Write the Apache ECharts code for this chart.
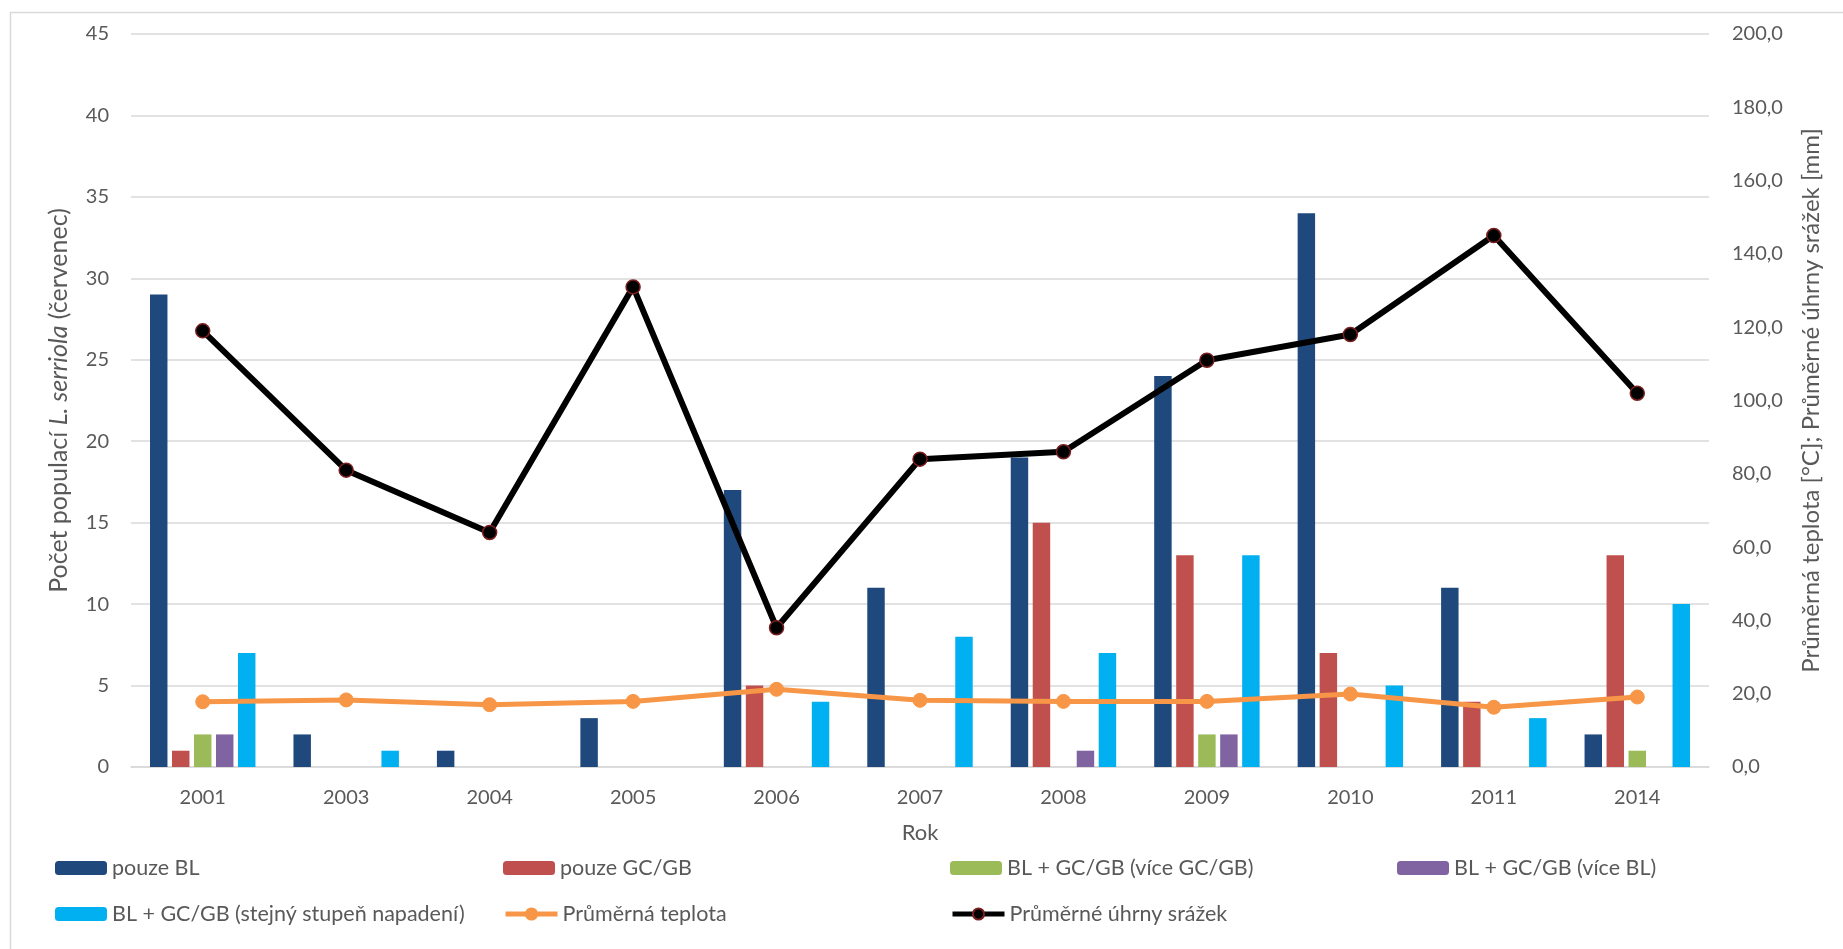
<!DOCTYPE html>
<html>
<head>
<meta charset="utf-8">
<script src="https://cdn.jsdelivr.net/npm/echarts@6/dist/echarts.min.js"></script>
<style>
html,body{margin:0;padding:0;background:#fff;}
#main{width:1843px;height:949px;}
</style>
</head>
<body>
<div id="main"></div>
<script>
const years = ['2001','2003','2004','2005','2006','2007','2008','2009','2010','2011','2014'];
const pouzeBL = [29, 2, 1, 3, 17, 11, 19, 24, 34, 11, 2];
const pouzeGC = [1, 0, 0, 0, 5, 0, 15, 13, 7, 4, 13];
const viceGC  = [2, 0, 0, 0, 0, 0, 0, 2, 0, 0, 1];
const viceBL  = [2, 0, 0, 0, 0, 0, 1, 2, 0, 0, 0];
const stejny  = [7, 1, 0, 0, 4, 8, 7, 13, 5, 3, 10];
const teplota = [17.8, 18.3, 17.0, 17.9, 21.2, 18.2, 17.9, 17.9, 19.9, 16.3, 19.1];
const srazky  = [119, 81, 64, 131, 38, 84, 86, 111, 118, 145, 102];
const leftTicks = {min: 0, max: 45, interval: 5};
const rightTicks = {min: 0, max: 200, interval: 20};

const names = ['pouze BL','pouze GC/GB','BL + GC/GB (více GC/GB)','BL + GC/GB (více BL)',
  'BL + GC/GB (stejný stupeň napadení)','Průměrná teplota','Průměrné úhrny srážek'];
const colors = ['#1F497D','#C0504D','#9BBB59','#8064A2','#00B0F0','#F79646','#000000'];
const FONT = 'Lato, "Open Sans", sans-serif';
const TXT = '#595959';

const chart = echarts.init(document.getElementById('main'), null, {renderer:'canvas'});

function bar(i, data){
  return {
    name: names[i], type: 'bar', data: data, yAxisIndex: 0,
    itemStyle: {color: colors[i]},
    barGap: '26%', barCategoryGap: '26.5%', z: 2
  };
}
const legendPos = [[55,857],[503,857],[950,857],[1397,857],[55,903],[503,903],[950,903]];
const legends = names.map((n,i)=>({
  data:[n], left: legendPos[i][0], top: legendPos[i][1], padding: 0,
  itemWidth: 52, itemHeight: 14, itemGap: 0,
  lineStyle: {width: 5},
  textStyle:{color:TXT, fontSize:21.5, fontFamily:FONT},
  selectedMode:false
}));

const option = {
  animation: false,
  color: colors,
  textStyle: {fontFamily: FONT},
  graphic: [{type:'rect', left:8, top:10, shape:{width:1900, height:1000},
    style:{fill:'none', stroke:'#d9d9d9', lineWidth:1.5}, z:-10, silent:true}],
  legend: legends,
  grid: {left:131, right:134, top:34, bottom:182, containLabel:false},
  xAxis: {
    type:'category', data: years,
    axisLine:{show:true, lineStyle:{color:'#d9d9d9', width:1.5}},
    axisTick:{show:false},
    axisLabel:{color:TXT, fontSize:20, fontFamily:FONT, margin:21},
    name:'Rok', nameLocation:'middle', nameGap:55,
    nameTextStyle:{color:TXT, fontSize:22, fontFamily:FONT}
  },
  yAxis: [{
    type:'value', min:leftTicks.min, max:leftTicks.max, interval:leftTicks.interval,
    axisLine:{show:false}, axisTick:{show:false},
    splitLine:{lineStyle:{color:'#d9d9d9', width:1.5}},
    axisLabel:{color:TXT, fontSize:20, fontFamily:FONT, margin:22},
    name:'Počet populací {i|L. serriola} (červenec)', nameLocation:'middle', nameRotate:90, nameGap:60,
    nameTextStyle:{color:TXT, fontSize:25, fontFamily:FONT,
      rich:{i:{fontStyle:'italic', color:TXT, fontSize:25, fontFamily:FONT}}}
  },{
    type:'value', position:'right', min:rightTicks.min, max:rightTicks.max, interval:rightTicks.interval,
    axisLine:{show:false}, axisTick:{show:false}, splitLine:{show:false},
    axisLabel:{color:TXT, fontSize:20, fontFamily:FONT, margin:23,
      formatter: v => v.toFixed(1).replace('.', ',')},
    name:'Průměrná teplota [°C]; Průměrné úhrny srážek [mm]', nameLocation:'middle', nameRotate:90, nameGap:90,
    nameTextStyle:{color:TXT, fontSize:24, fontFamily:FONT}
  }],
  series: [
    bar(0, pouzeBL), bar(1, pouzeGC), bar(2, viceGC), bar(3, viceBL), bar(4, stejny),
    {name:names[5], type:'line', yAxisIndex:1, data:teplota, z:5,
      symbol:'circle', symbolSize:14, lineStyle:{color:colors[5], width:5},
      itemStyle:{color:colors[5], borderColor:colors[5], borderWidth:1}},
    {name:names[6], type:'line', yAxisIndex:1, data:srazky, z:6,
      symbol:'circle', symbolSize:14, lineStyle:{color:'#000', width:6},
      itemStyle:{color:'#000', borderColor:'#7a1f1f', borderWidth:1.5}}
  ]
};
chart.setOption(option);
</script>
</body>
</html>
